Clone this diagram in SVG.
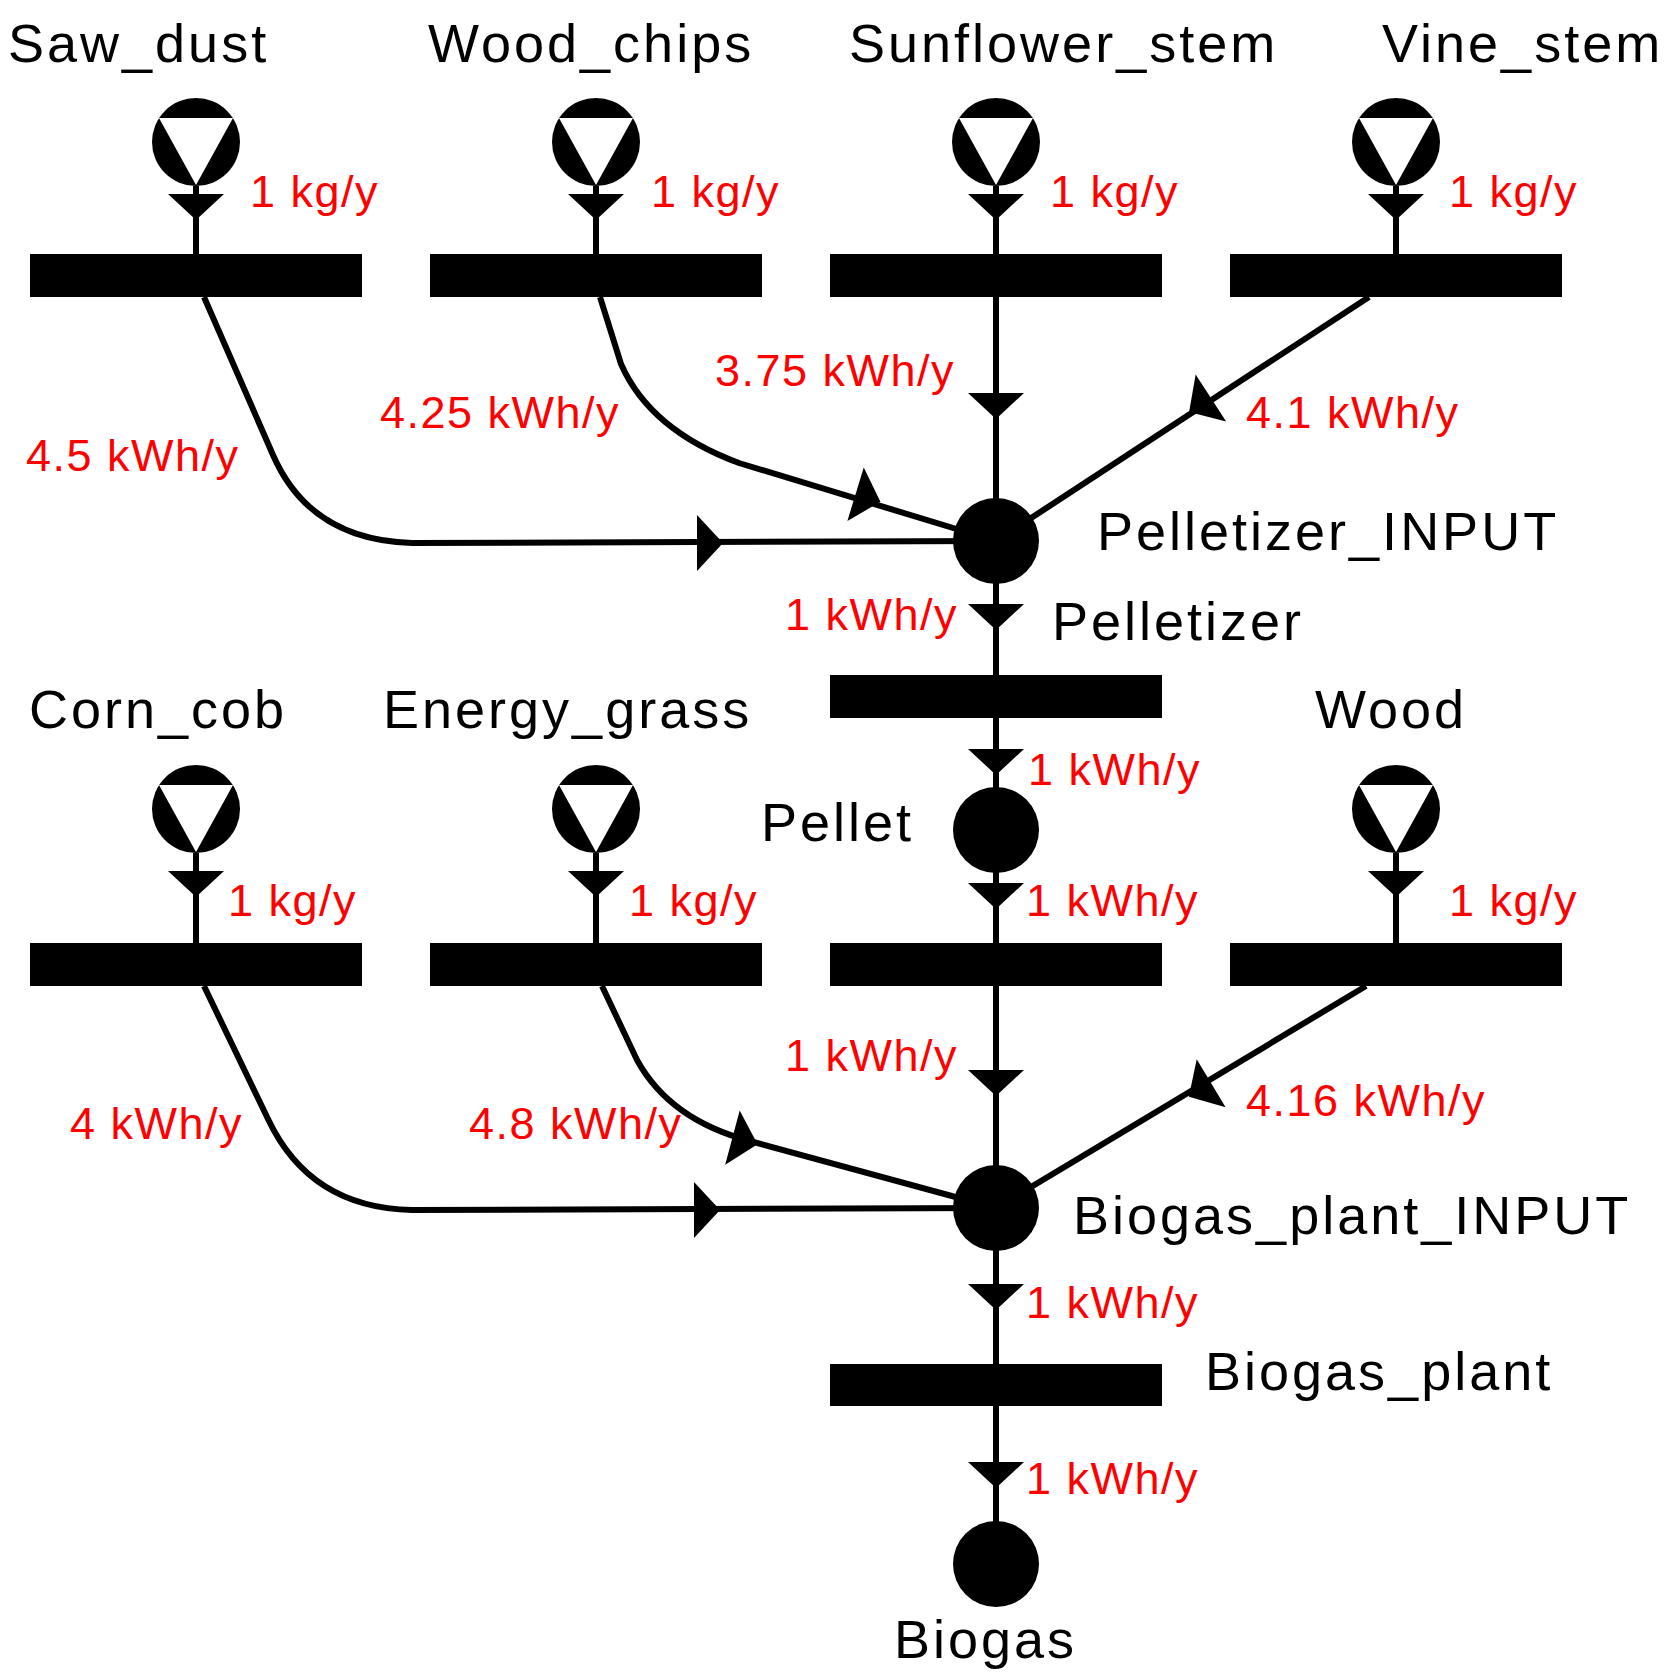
<svg xmlns="http://www.w3.org/2000/svg" width="1671" height="1678" viewBox="0 0 1671 1678">
<style>
.lb{font-family:"Liberation Sans",Arial,sans-serif;font-size:54px;letter-spacing:3px;fill:#000}
.rd{font-family:"Liberation Sans",Arial,sans-serif;font-size:45px;letter-spacing:1.5px;fill:#ff0000}
.ln{stroke:#000;stroke-width:6;fill:none}
</style>
<defs>
<path id="ah" d="M13,0 L-13,-28 L-13,28 Z" fill="#000"/>
<g id="src"><circle r="44" fill="#000"/><path d="M-37,-24 L37,-24 L0,43 Z" fill="#fff"/></g>
</defs>
<rect width="1671" height="1678" fill="#fff"/>
<g id="connectors">
<line class="ln" x1="196" y1="186" x2="196" y2="255"/>
<line class="ln" x1="596" y1="186" x2="596" y2="255"/>
<line class="ln" x1="996" y1="186" x2="996" y2="255"/>
<line class="ln" x1="1396" y1="186" x2="1396" y2="255"/>
<use href="#ah" transform="translate(196,207) rotate(90)"/>
<use href="#ah" transform="translate(596,207) rotate(90)"/>
<use href="#ah" transform="translate(996,207) rotate(90)"/>
<use href="#ah" transform="translate(1396,207) rotate(90)"/>
<path class="ln" d="M204,297 L273,455 Q310,540 412,543 L996,541"/>
<use href="#ah" transform="translate(710,543)"/>
<path class="ln" d="M600,297 L621,364 Q650,430 739,463 L996,541"/>
<use href="#ah" transform="translate(868,498) rotate(17)"/>
<line class="ln" x1="996" y1="297" x2="996" y2="541"/>
<use href="#ah" transform="translate(996,406) rotate(90)"/>
<line class="ln" x1="1369" y1="297" x2="996" y2="541"/>
<use href="#ah" transform="translate(1200,405) rotate(147)"/>
<line class="ln" x1="996" y1="541" x2="996" y2="1564"/>
<use href="#ah" transform="translate(996,617) rotate(90)"/>
<use href="#ah" transform="translate(996,762) rotate(90)"/>
<use href="#ah" transform="translate(996,896) rotate(90)"/>
<use href="#ah" transform="translate(996,1083) rotate(90)"/>
<use href="#ah" transform="translate(996,1297) rotate(90)"/>
<use href="#ah" transform="translate(996,1475) rotate(90)"/>
<line class="ln" x1="196" y1="853" x2="196" y2="945"/>
<line class="ln" x1="596" y1="853" x2="596" y2="945"/>
<line class="ln" x1="1396" y1="853" x2="1396" y2="945"/>
<use href="#ah" transform="translate(196,884) rotate(90)"/>
<use href="#ah" transform="translate(596,884) rotate(90)"/>
<use href="#ah" transform="translate(1396,884) rotate(90)"/>
<path class="ln" d="M204,986 L268,1119 Q310,1208 412,1210 L996,1208"/>
<use href="#ah" transform="translate(707,1210)"/>
<path class="ln" d="M602,986 L637,1060 Q670,1120 750,1141 L996,1208"/>
<use href="#ah" transform="translate(745,1141) rotate(15)"/>
<line class="ln" x1="1366" y1="986" x2="996" y2="1208"/>
<use href="#ah" transform="translate(1200,1090) rotate(149)"/>
</g>
<g id="saw_dust"><use href="#src" x="196" y="142"/><text class="lb" x="8" y="62">Saw_dust</text></g>
<g id="wood_chips"><use href="#src" x="596" y="142"/><text class="lb" x="428" y="62">Wood_chips</text></g>
<g id="sunflower_stem"><use href="#src" x="996" y="142"/><text class="lb" x="849" y="62">Sunflower_stem</text></g>
<g id="vine_stem"><use href="#src" x="1396" y="142"/><text class="lb" x="1382" y="62">Vine_stem</text></g>
<g id="t_saw"><rect x="30" y="254" width="332" height="43"/></g>
<g id="t_chips"><rect x="430" y="254" width="332" height="43"/></g>
<g id="t_sun"><rect x="830" y="254" width="332" height="43"/></g>
<g id="t_vine"><rect x="1230" y="254" width="332" height="43"/></g>
<g id="pelletizer_input"><circle cx="996" cy="541" r="43"/><text class="lb" x="1097" y="550">Pelletizer_INPUT</text></g>
<g id="pelletizer"><rect x="830" y="675" width="332" height="43"/><text class="lb" x="1052" y="640">Pelletizer</text></g>
<g id="pellet"><circle cx="996" cy="830" r="43"/><text class="lb" x="761" y="841">Pellet</text></g>
<g id="corn_cob"><use href="#src" x="196" y="809"/><text class="lb" x="29" y="728">Corn_cob</text></g>
<g id="energy_grass"><use href="#src" x="596" y="809"/><text class="lb" x="383" y="728">Energy_grass</text></g>
<g id="wood"><use href="#src" x="1396" y="809"/><text class="lb" x="1315" y="728">Wood</text></g>
<g id="t_corn"><rect x="30" y="943" width="332" height="43"/></g>
<g id="t_grass"><rect x="430" y="943" width="332" height="43"/></g>
<g id="t_pellet"><rect x="830" y="943" width="332" height="43"/></g>
<g id="t_wood"><rect x="1230" y="943" width="332" height="43"/></g>
<g id="biogas_plant_input"><circle cx="996" cy="1208" r="43"/><text class="lb" x="1073" y="1234">Biogas_plant_INPUT</text></g>
<g id="biogas_plant"><rect x="830" y="1364" width="332" height="42"/><text class="lb" x="1205" y="1390">Biogas_plant</text></g>
<g id="biogas"><circle cx="996" cy="1564" r="43"/><text class="lb" x="894" y="1658">Biogas</text></g>
<g id="labels">
<text class="rd" x="250" y="207">1 kg/y</text>
<text class="rd" x="651" y="207">1 kg/y</text>
<text class="rd" x="1050" y="207">1 kg/y</text>
<text class="rd" x="1449" y="207">1 kg/y</text>
<text class="rd" x="715" y="386">3.75 kWh/y</text>
<text class="rd" x="380" y="428">4.25 kWh/y</text>
<text class="rd" x="26" y="471">4.5 kWh/y</text>
<text class="rd" x="1246" y="428">4.1 kWh/y</text>
<text class="rd" x="785" y="630">1 kWh/y</text>
<text class="rd" x="1028" y="785">1 kWh/y</text>
<text class="rd" x="228" y="916">1 kg/y</text>
<text class="rd" x="629" y="916">1 kg/y</text>
<text class="rd" x="1449" y="916">1 kg/y</text>
<text class="rd" x="1026" y="916">1 kWh/y</text>
<text class="rd" x="785" y="1071">1 kWh/y</text>
<text class="rd" x="70" y="1139">4 kWh/y</text>
<text class="rd" x="469" y="1139">4.8 kWh/y</text>
<text class="rd" x="1246" y="1116">4.16 kWh/y</text>
<text class="rd" x="1026" y="1318">1 kWh/y</text>
<text class="rd" x="1026" y="1494">1 kWh/y</text>
</g>
</svg>
